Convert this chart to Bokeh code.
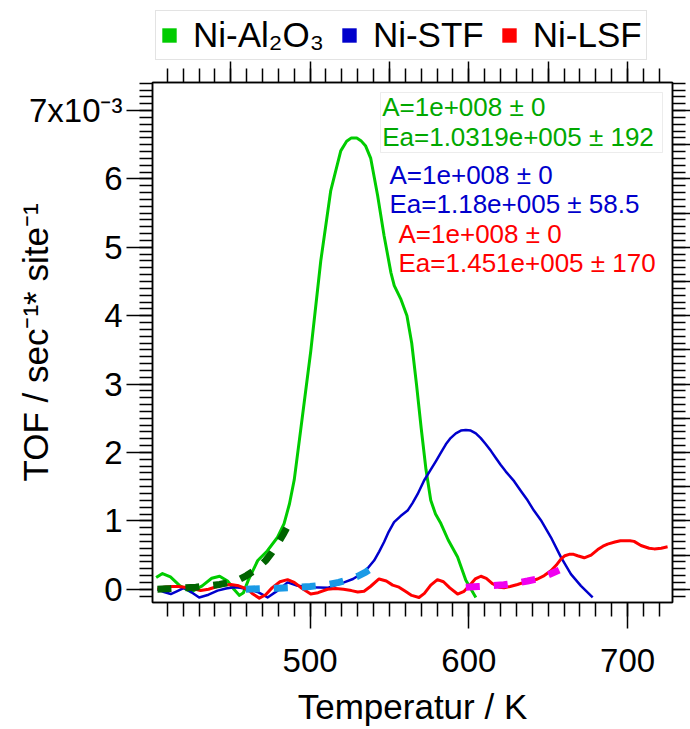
from bokeh.plotting import figure
from bokeh.layouts import column
from bokeh.models import (Range1d, LinearAxis, FixedTicker, Label, BoxAnnotation,
                          Legend, LegendItem, CustomJSTickFormatter)
from bokeh.embed import file_html
from bokeh.resources import INLINE

# ---------------- data (TOF in units of 1e-3 sec^-1 site^-1) ----------------
al2o3_T = [403, 407, 412, 418, 425, 432, 438, 443, 448, 452, 455.5, 458, 461, 467, 473,
           479.5, 483.6, 487, 490, 494, 500.4, 506.7, 513, 519.3, 523, 526, 529.4, 532,
           535, 538.2, 542.5, 546.6, 550.9, 553, 557, 561, 564, 567, 570, 573, 576, 579,
           582.4, 587, 592.9, 598.1, 604.4]
al2o3_tof = [0.17, 0.23, 0.18, 0.05, -0.04, 0.05, 0.16, 0.19, 0.12, 0.0, -0.09, -0.05, 0.13,
             0.42, 0.56, 0.76, 0.96, 1.25, 1.6, 2.32, 3.48, 4.8, 5.83, 6.41, 6.55, 6.6, 6.6,
             6.56, 6.48, 6.3, 5.76, 5.17, 4.63, 4.44, 4.25, 4.0, 3.6, 3.0, 2.35, 1.75, 1.3,
             1.1, 0.96, 0.72, 0.47, 0.13, -0.12]

stf_T = [403.8, 408, 412.2, 416, 420.6, 425, 430.1, 436, 441.7, 447, 452.1, 456, 460.6,
         466.9, 473.2, 479.5, 485.8, 492.1, 500.4, 511, 521.4, 527, 531.9, 536, 540.3,
         543.5, 546.6, 549.5, 552.9, 557, 561.4, 564.5, 567.7, 571.8, 575.5, 579.2, 582.5,
         585.5, 588.5, 591.8, 595, 598.1, 601.2, 604.4, 607.5, 610.7, 614, 617, 620, 623.3,
         628.5, 633, 637, 641, 645.4, 651.7, 658, 664.3, 670.6, 678]
stf_tof = [0.0, -0.04, -0.07, -0.03, 0.02, -0.04, -0.12, -0.08, -0.02, 0.01, 0.03, 0.02, 0.0,
           -0.04, -0.12, -0.02, 0.10, 0.05, 0.03, 0.02, 0.10, 0.15, 0.22, 0.30, 0.42, 0.55,
           0.69, 0.84, 0.98, 1.07, 1.15, 1.26, 1.39, 1.59, 1.73, 1.87, 2.0, 2.12, 2.21, 2.28,
           2.32, 2.33, 2.32, 2.28, 2.21, 2.12, 2.02, 1.92, 1.82, 1.72, 1.58, 1.43, 1.30, 1.15,
           1.01, 0.76, 0.47, 0.22, 0.05, -0.12]

lsf_T = [403.8, 408, 413, 417, 421, 426, 431, 436, 441.5, 446, 450, 455, 460.6, 464, 468,
         472, 476, 481, 485.8, 490, 495, 500.4, 505, 511, 516, 521, 526, 530, 534, 538,
         543.4, 548, 552, 556, 560, 564, 568.6, 572, 576, 580.2, 584, 588, 592.9, 597, 601,
         604, 607.6, 611, 615, 619, 622.2, 626, 630.7, 634.8, 639, 643.3, 647.5, 651.7, 655,
         658, 660.5, 663.2, 666, 668.5, 672.7, 677, 681.2, 684.5, 687.4, 692, 695.5, 698.9,
         701.5, 704.1, 708.4, 713.6, 716.8, 721.2, 725.2]
lsf_tof = [0.0, 0.03, 0.04, 0.04, 0.03, 0.01, -0.02, 0.0, 0.04, 0.06, 0.07, 0.05, 0.0, -0.07,
           -0.13, -0.08, 0.02, 0.11, 0.14, 0.1, 0.01, -0.07, -0.05, 0.0, 0.01, 0.0, -0.02,
           -0.04, -0.03, 0.04, 0.15, 0.12, 0.06, 0.03, -0.03, -0.09, -0.12, -0.06, 0.06, 0.14,
           0.11, 0.02, -0.07, -0.03, 0.07, 0.15, 0.19, 0.16, 0.08, 0.03, 0.02, 0.04, 0.07,
           0.10, 0.12, 0.15, 0.2, 0.27, 0.35, 0.44, 0.49, 0.51, 0.51, 0.49, 0.46, 0.5, 0.58,
           0.63, 0.66, 0.69, 0.71, 0.71, 0.71, 0.70, 0.64, 0.60, 0.59, 0.60, 0.62]

# Arrhenius fits
al2o3_fit_T = [403.8, 412, 420, 428, 436, 443, 449, 455, 460, 464, 468, 472, 476, 480, 483, 485.8]
al2o3_fit_tof = [0.0, 0.01, 0.02, 0.03, 0.05, 0.07, 0.1, 0.14, 0.2, 0.26, 0.33, 0.42, 0.54,
                 0.68, 0.8, 0.92]
stf_fit_T = [459.5, 470, 480, 490, 500, 510, 518, 524, 530, 535, 538.2]
stf_fit_tof = [0.0, 0.01, 0.015, 0.025, 0.04, 0.065, 0.1, 0.14, 0.19, 0.25, 0.3]
lsf_fit_T = [598.1, 606, 614, 622, 630, 637, 643, 648, 652, 656.9]
lsf_fit_tof = [0.03, 0.04, 0.05, 0.065, 0.09, 0.12, 0.15, 0.19, 0.23, 0.28]

series_names = ["Ni-Al\u2082O\u2083", "Ni-STF", "Ni-LSF"]
fit_texts = [["A=1e+008 \u00b1 0", "Ea=1.0319e+005 \u00b1 192"],
             ["A=1e+008 \u00b1 0", "Ea=1.18e+005 \u00b1 58.5"],
             ["A=1e+008 \u00b1 0", "Ea=1.451e+005 \u00b1 170"]]

x_major = [500, 600, 700]
x_minor = list(range(410, 730, 10))
x_top_major = [450, 500, 550, 600, 650, 700]
y_major = [0, 1, 2, 3, 4, 5, 6, 7]
y_labels = {7: "7x10\u207b\u00b3"}
y_minor = [round(-0.1 + 0.1 * i, 1) for i in range(76)]
y_right_major = [0.5 * i for i in range(15)]

x_title = "Temperatur / K"
y_title = "TOF / sec\u207b\u00b9* site\u207b\u00b9"

# ---------------- styling ----------------
FONT = "Liberation Sans"
GREEN, BLUE, RED = "#00cc00", "#0000cc", "#ff0000"
GREEN_T = "#00a800"
FIT_GREEN, FIT_BLUE, FIT_MAG = "#006400", "#1a9ae6", "#f000f0"

X0, X1 = 400.7, 728.3
Y0, Y1 = -0.194, 7.41

LEG_H = 61  # height of the legend strip on top

# ---------------- legend strip (separate figure on top) ----------------
lf = figure(width=690, height=LEG_H, x_range=Range1d(0, 1), y_range=Range1d(0, 1),
            output_backend="svg", toolbar_location=None,
            x_axis_location=None, y_axis_location=None)
lf.min_border = 0
lf.xgrid.visible = False
lf.ygrid.visible = False
lf.outline_line_color = None
lf.background_fill_color = "white"
lf.border_fill_color = "white"
nan = float("nan")
leg_colors = [GREEN, BLUE, RED]
leg_items = []
for name, col in zip(series_names, leg_colors):
    r = lf.quad(left=[nan], right=[nan], top=[nan], bottom=[nan], fill_color=col, line_color=None)
    leg_items.append(LegendItem(label=name, renderers=[r]))
legend = Legend(items=leg_items, orientation="horizontal", location=(3, 1),
                glyph_width=18, glyph_height=18, label_standoff=15, spacing=16,
                padding=4, margin=0, label_text_font=FONT, label_text_font_size="35px",
                label_text_color="black",
                border_line_color="#c8c8c8", border_line_width=1,
                background_fill_color="white", background_fill_alpha=1.0)
lf.add_layout(legend)

# ---------------- main plot ----------------
p = figure(width=690, height=729 - LEG_H, x_range=Range1d(X0, X1), y_range=Range1d(Y0, Y1),
           output_backend="svg", toolbar_location=None)
p.min_border_left = 152
p.min_border_right = 18
p.min_border_top = 82 - LEG_H
p.min_border_bottom = 127
p.xgrid.visible = False
p.ygrid.visible = False
p.outline_line_color = "black"
p.outline_line_width = 1.5
p.background_fill_color = "white"
p.border_fill_color = "white"

# page pixel -> data helpers for annotation placement (frame: x 152..672, y 82..602)
def dx(px):
    return X0 + (px - 152) * (X1 - X0) / 520.0

def dy(py):
    return Y1 - (py - 82) * (Y1 - Y0) / 520.0

def style_axis(ax, maj_out, min_out):
    ax.axis_line_color = "black"
    ax.axis_line_width = 1.5
    ax.major_tick_line_color = "black"
    ax.minor_tick_line_color = "black"
    ax.major_tick_line_width = 1.5
    ax.minor_tick_line_width = 1.5
    ax.major_tick_in = 0
    ax.minor_tick_in = 0
    ax.major_tick_out = maj_out
    ax.minor_tick_out = min_out
    ax.major_label_text_font = FONT
    ax.major_label_text_color = "black"
    ax.axis_label_text_font = FONT
    ax.axis_label_text_font_style = "normal"
    ax.axis_label_text_color = "black"

xb = p.xaxis[0]
xb.ticker = FixedTicker(ticks=x_major, minor_ticks=x_minor)
style_axis(xb, 26, 14)
xb.major_label_text_font_size = "33px"
xb.major_label_standoff = 20
xb.axis_label = x_title
xb.axis_label_text_font_size = "35px"
xb.axis_label_standoff = 12

yl = p.yaxis[0]
yl.ticker = FixedTicker(ticks=y_major, minor_ticks=y_minor)
style_axis(yl, 26, 13)
yl.major_label_text_font_size = "33px"
yl.major_label_standoff = 4
yl.major_label_overrides = y_labels
yl.axis_label = y_title
yl.axis_label_text_font_size = "35px"
yl.axis_label_standoff = -29

blank = CustomJSTickFormatter(code="return ''")
xt = LinearAxis(ticker=FixedTicker(ticks=x_top_major, minor_ticks=x_minor), formatter=blank)
style_axis(xt, 21, 14)
xt.major_label_text_font_size = "0px"
xt.major_label_standoff = 0
p.add_layout(xt, "above")

yr = LinearAxis(ticker=FixedTicker(ticks=y_right_major, minor_ticks=y_minor), formatter=blank)
style_axis(yr, 18, 13)
yr.major_label_text_font_size = "0px"
yr.major_label_standoff = 0
p.add_layout(yr, "right")

# ---------------- curves ----------------
p.line(al2o3_T, al2o3_tof, line_color=GREEN, line_width=3, line_join="round")
p.line(stf_T, stf_tof, line_color=BLUE, line_width=2.5, line_join="round")
p.line(lsf_T, lsf_tof, line_color=RED, line_width=3, line_join="round")

p.line(al2o3_fit_T, al2o3_fit_tof, line_color=FIT_GREEN, line_width=7, line_dash="14 14")
p.line(stf_fit_T, stf_fit_tof, line_color=FIT_BLUE, line_width=7, line_dash="14 14")
p.line(lsf_fit_T, lsf_fit_tof, line_color=FIT_MAG, line_width=7, line_dash="14 14")

# ---------------- fit result annotations ----------------
p.add_layout(BoxAnnotation(left=dx(380), right=dx(662), top=dy(92), bottom=dy(152),
                           fill_alpha=0, line_color="#c0c0c0", line_width=1))
ann = [(GREEN_T, 381.7, 106.7, 136.7), (BLUE, 389, 174, 203), (RED, 398, 233, 262)]
for (col, px, py1, py2), texts in zip(ann, fit_texts):
    for py, t in zip((py1, py2), texts):
        p.add_layout(Label(x=dx(px), y=dy(py), text=t, text_color=col, text_font=FONT,
                           text_font_size="26px", text_align="left", text_baseline="middle"))

layout = column(lf, p)
open("out.html", "w").write(file_html(layout, INLINE))
